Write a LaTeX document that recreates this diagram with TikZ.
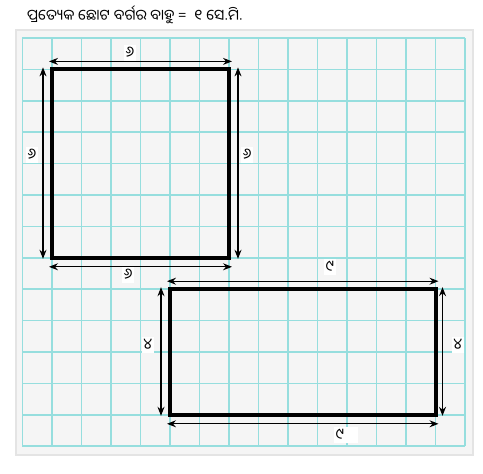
\documentclass[tikz,border=0pt]{standalone}
\usepackage{fontspec}
\newfontfamily\oriyafont[Script=Oriya]{Noto Sans Oriya UI}
\usetikzlibrary{arrows.meta,calc,positioning}
\definecolor{gridcyan}{RGB}{150,222,222}
\definecolor{panelgray}{RGB}{245,245,245}
\definecolor{paneledge}{RGB}{228,228,228}

\begin{document}
\begin{tikzpicture}[x=29.5pt,y=-31.4pt,
    side/.style={line width=4pt,line join=miter},
    dim/.style={{Stealth[length=9pt,width=7pt,inset=3pt]}-{Stealth[length=9pt,width=7pt,inset=3pt]},line width=1.1pt},
    lbl/.style={fill=white,inner sep=2pt,font=\oriyafont\fontsize{15}{15}\selectfont}]
            \useasboundingbox (-22.5pt,38pt) rectangle (460.5pt,-436pt);
            %Panel
            \filldraw[fill=panelgray,draw=paneledge,line width=1.5pt] (-6.5pt,8pt) rectangle (450.5pt,-417pt);
            %Grid
            \foreach \i in {0,...,15}
                \draw[gridcyan,line width=1.6pt] (\i,0) -- (\i,13);
            \foreach \j in {0,...,13}
                \draw[gridcyan,line width=1.6pt] (0,\j) -- (15,\j);
            %Title
            \node[anchor=west,inner sep=0pt,font=\oriyafont\fontsize{14.8}{16}\selectfont] (title) at (4.5pt,23pt)
                {ପ୍ରତ୍ୟେକ ଛୋଟ ବର୍ଗର ବାହୁ =~ ୧ ସେ.ମି.};
            %Corners
            \coordinate (s1) at (1,1);
            \coordinate (s2) at (7,1);
            \coordinate (s3) at (7,7);
            \coordinate (s4) at (1,7);
            \coordinate (r1) at (5,8);
            \coordinate (r2) at (14,8);
            \coordinate (r3) at (14,12);
            \coordinate (r4) at (5,12);
            %Arrow ends
            \coordinate (st1) at ($(s1)+(-3pt,8pt)$);
            \coordinate (st2) at ($(s2)+(3pt,8pt)$);
            \coordinate (sb1) at ($(s4)+(-3pt,-9pt)$);
            \coordinate (sb2) at ($(s3)+(3pt,-9pt)$);
            \coordinate (sl1) at ($(s1)+(-9pt,2pt)$);
            \coordinate (sl2) at ($(s4)+(-9pt,-1pt)$);
            \coordinate (sr1) at ($(s2)+(9pt,2pt)$);
            \coordinate (sr2) at ($(s3)+(9pt,-1pt)$);
            \coordinate (rt1) at ($(r1)+(-3pt,8pt)$);
            \coordinate (rt2) at ($(r2)+(3pt,8pt)$);
            \coordinate (rb1) at ($(r4)+(-3pt,-9pt)$);
            \coordinate (rb2) at ($(r3)+(3pt,-9pt)$);
            \coordinate (rl1) at ($(r1)+(-9pt,2pt)$);
            \coordinate (rl2) at ($(r4)+(-9pt,-1pt)$);
            \coordinate (rr1) at ($(r2)+(7pt,2pt)$);
            \coordinate (rr2) at ($(r3)+(7pt,-1pt)$);
            %Shapes
            \draw[side] (s1) -- (s2) -- (s3) -- (s4) -- cycle;
            \draw[side] (r1) -- (r2) -- (r3) -- (r4) -- cycle;
            %Dimensions
            \draw[dim] (st1) -- (st2);
            \draw[dim] (sb1) -- (sb2);
            \draw[dim] (sl1) -- (sl2);
            \draw[dim] (sr1) -- (sr2);
            \draw[dim] (rt1) -- (rt2);
            \draw[dim] (rb1) -- (rb2);
            \draw[dim] (rl1) -- (rl2);
            \draw[dim] (rr1) -- (rr2);
            %Labels
            \node[lbl] (sqtop) at (3.64,0.48) {୬};
            \node[lbl] (sqbottom) at (3.58,7.55) {୬};
            \node[lbl] (sqleft) at (0.32,3.73) {୬};
            \node[lbl] (sqright) at (7.61,3.73) {୬};
            \node[lbl] (rctop) at (10.42,7.29) {୯};
            \node[lbl,text width=20pt,align=left] (rcbottom) at (10.95,12.64) {୯};
            \node[lbl] (rcleft) at (4.25,9.78) {୪};
            \node[lbl] (rcright) at (14.76,9.78) {୪};
        \end{tikzpicture}
\end{document}
